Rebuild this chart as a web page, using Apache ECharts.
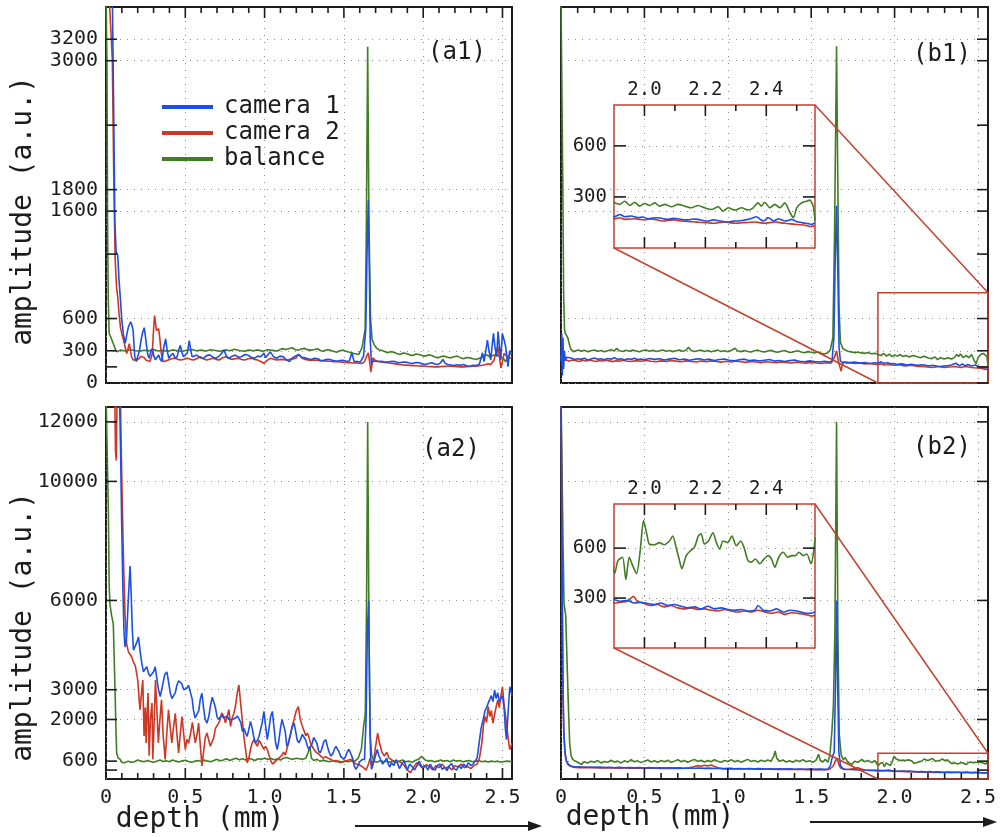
<!DOCTYPE html>
<html>
<head>
<meta charset="utf-8">
<script src="https://cdn.jsdelivr.net/npm/echarts@6/dist/echarts.min.js"></script>
<style>
  html, body { margin: 0; padding: 0; background: #ffffff; }
  #chart { width: 1000px; height: 837px; }
</style>
</head>
<body>
<div id="chart"></div>
<script>
// ---------- axis ticks and labels ----------
const DEPTH_MAX = 2.56;
const DEPTH_LABELS = [0, 0.5, 1.0, 1.5, 2.0, 2.5];
const DEPTH_MINOR = [0.1, 0.2, 0.3, 0.4, 0.6, 0.7, 0.8, 0.9, 1.1, 1.2, 1.3, 1.4, 1.6, 1.7, 1.8, 1.9, 2.1, 2.2, 2.3, 2.4];
const TOP_Y_TICKS = [0, 300, 600, 1600, 1800, 3000, 3200];
const TOP_Y_EXTRA = [150, 1200, 2400];
const TOP_Y_MAX = 3500;
const BOTTOM_Y_TICKS = [600, 2000, 3000, 6000, 10000, 12000];
const BOTTOM_Y_EXTRA = [300];
const BOTTOM_Y_MAX = 12500;
const ZOOM_DEPTH = [1.9, 2.56];
const ZOOM_X_MAJOR = [2.0, 2.2, 2.4];
const ZOOM_X_MINOR = [2.1, 2.3, 2.5];
const ZOOM_Y_TICKS = [300, 600];
const ZOOM_Y_MAX_TOP = 840;
const ZOOM_Y_MAX_BOTTOM = 865;
const SERIES_NAMES = ['camera 1', 'camera 2', 'balance'];

// ---------- (a1) amplitude vs depth ----------
const a1Camera1 = [[0,3600],[0.02,3600],[0.04,3600],[0.048,2600],[0.056,1500],[0.064,1220],[0.074,1190],[0.082,960],[0.092,760],[0.1,580],[0.11,450],[0.121,370],[0.131,450],[0.141,520],[0.155,570],[0.163,540],[0.171,490],[0.181,250],[0.191,200],[0.201,210],[0.211,300],[0.221,400],[0.231,470],[0.241,515],[0.249,430],[0.256,340],[0.264,260],[0.272,230],[0.282,290],[0.292,320],[0.302,250],[0.312,215],[0.322,240],[0.332,260],[0.342,220],[0.352,200],[0.364,330],[0.376,410],[0.386,300],[0.396,230],[0.41,260],[0.423,275],[0.436,230],[0.449,245],[0.459,310],[0.469,350],[0.479,280],[0.489,245],[0.501,260],[0.513,280],[0.525,395],[0.535,300],[0.543,245],[0.558,250],[0.573,260],[0.594,235],[0.614,230],[0.634,255],[0.654,262],[0.674,240],[0.694,230],[0.72,260],[0.744,305],[0.76,250],[0.775,230],[0.795,250],[0.815,260],[0.835,240],[0.855,245],[0.875,265],[0.895,260],[0.915,240],[0.936,230],[0.956,250],[0.976,245],[0.996,280],[1.006,235],[1.036,290],[1.056,245],[1.076,230],[1.097,250],[1.117,245],[1.137,215],[1.157,200],[1.177,235],[1.214,266],[1.234,240],[1.254,234],[1.274,225],[1.294,219],[1.314,230],[1.334,225],[1.354,210],[1.374,212],[1.394,220],[1.414,219],[1.434,208],[1.454,203],[1.474,210],[1.494,212],[1.514,205],[1.534,203],[1.55,281],[1.564,203],[1.584,200],[1.604,194],[1.624,250],[1.638,500],[1.646,1200],[1.654,1700],[1.66,1100],[1.666,406],[1.674,172],[1.684,205],[1.694,212],[1.714,200],[1.734,203],[1.754,198],[1.774,194],[1.794,200],[1.814,203],[1.834,192],[1.854,188],[1.874,196],[1.894,194],[1.914,186],[1.934,181],[1.954,190],[1.974,188],[1.994,178],[2.014,172],[2.034,182],[2.054,188],[2.074,176],[2.094,172],[2.11,190],[2.124,219],[2.138,185],[2.154,172],[2.174,168],[2.194,162],[2.214,170],[2.234,165],[2.254,172],[2.274,160],[2.294,156],[2.314,165],[2.334,162],[2.354,175],[2.374,281],[2.384,200],[2.394,188],[2.405,400],[2.415,300],[2.426,214],[2.435,350],[2.443,462],[2.453,330],[2.464,245],[2.472,478],[2.48,350],[2.489,214],[2.499,462],[2.51,400],[2.52,338],[2.535,152],[2.545,300],[2.56,276]];
const a1Camera2 = [[0,3600],[0.02,3600],[0.04,3000],[0.05,1800],[0.058,1150],[0.066,900],[0.074,800],[0.082,650],[0.091,520],[0.101,450],[0.111,400],[0.121,330],[0.131,275],[0.139,320],[0.147,367],[0.155,300],[0.161,245],[0.171,215],[0.181,199],[0.196,215],[0.211,230],[0.221,250],[0.231,260],[0.241,235],[0.252,214],[0.264,205],[0.276,199],[0.286,240],[0.292,275],[0.3,500],[0.306,627],[0.312,560],[0.318,490],[0.325,480],[0.332,505],[0.339,420],[0.346,306],[0.354,230],[0.362,199],[0.377,205],[0.392,214],[0.413,225],[0.433,230],[0.453,220],[0.473,214],[0.493,222],[0.513,230],[0.533,220],[0.553,214],[0.574,228],[0.594,245],[0.614,225],[0.634,214],[0.654,222],[0.674,230],[0.694,220],[0.714,214],[0.735,235],[0.755,245],[0.775,228],[0.795,220],[0.815,225],[0.835,230],[0.855,218],[0.875,214],[0.895,225],[0.916,230],[0.936,220],[0.956,214],[0.976,200],[0.996,184],[1.016,210],[1.036,230],[1.056,222],[1.076,214],[1.106,220],[1.137,214],[1.167,222],[1.197,230],[1.214,266],[1.234,235],[1.254,219],[1.274,215],[1.294,210],[1.314,214],[1.334,212],[1.354,205],[1.374,208],[1.394,204],[1.414,203],[1.434,198],[1.454,200],[1.474,196],[1.494,194],[1.514,192],[1.534,190],[1.554,186],[1.574,188],[1.594,184],[1.614,181],[1.63,200],[1.644,250],[1.654,280],[1.662,200],[1.67,100],[1.678,180],[1.684,234],[1.694,215],[1.714,203],[1.734,195],[1.754,192],[1.774,188],[1.794,184],[1.814,180],[1.834,176],[1.854,172],[1.874,168],[1.894,166],[1.914,164],[1.934,162],[1.954,160],[1.974,158],[1.994,157],[2.014,156],[2.034,153],[2.054,152],[2.074,150],[2.094,150],[2.114,153],[2.134,155],[2.154,156],[2.174,156],[2.194,153],[2.214,151],[2.234,150],[2.254,150],[2.274,152],[2.294,154],[2.314,156],[2.334,156],[2.354,160],[2.374,165],[2.394,172],[2.41,180],[2.425,170],[2.447,214],[2.458,280],[2.47,338],[2.48,250],[2.49,140],[2.5,200],[2.51,276],[2.52,260],[2.53,245],[2.545,230],[2.56,240]];
const a1Balance = [[0,3600],[0.006,3000],[0.01,1500],[0.014,800],[0.02,460],[0.03,428],[0.04,390],[0.05,352],[0.06,310],[0.07,290],[0.08,300],[0.09,306],[0.12,298],[0.15,310],[0.18,302],[0.21,296],[0.24,305],[0.27,300],[0.3,312],[0.33,298],[0.36,304],[0.39,296],[0.42,308],[0.45,300],[0.48,295],[0.51,305],[0.54,312],[0.57,300],[0.6,306],[0.63,298],[0.66,310],[0.69,302],[0.72,296],[0.75,308],[0.78,300],[0.81,314],[0.84,302],[0.87,296],[0.9,306],[0.93,300],[0.96,308],[0.99,296],[1.02,310],[1.05,304],[1.08,298],[1.11,320],[1.134,312],[1.174,328],[1.194,310],[1.214,306],[1.234,318],[1.254,322],[1.274,308],[1.294,306],[1.314,312],[1.334,319],[1.354,300],[1.374,297],[1.394,310],[1.414,306],[1.434,295],[1.454,287],[1.474,300],[1.494,306],[1.514,295],[1.534,287],[1.564,275],[1.594,266],[1.614,328],[1.634,500],[1.642,1500],[1.65,3130],[1.658,1500],[1.668,600],[1.678,406],[1.69,360],[1.704,328],[1.72,310],[1.734,306],[1.754,295],[1.774,281],[1.794,292],[1.814,287],[1.834,275],[1.854,266],[1.874,280],[1.894,275],[1.914,262],[1.934,256],[1.954,270],[1.974,266],[1.994,255],[2.014,250],[2.034,262],[2.054,256],[2.074,242],[2.094,234],[2.114,246],[2.134,250],[2.154,240],[2.174,234],[2.194,245],[2.214,250],[2.234,236],[2.254,225],[2.274,238],[2.294,234],[2.314,226],[2.334,219],[2.35,228],[2.364,234],[2.38,250],[2.394,266],[2.405,260],[2.42,245],[2.44,255],[2.46,265],[2.48,250],[2.49,260],[2.505,230],[2.52,198],[2.535,240],[2.55,276],[2.56,270]];

// ---------- (a2) amplitude vs depth ----------
const a2Camera1 = [[0,13000],[0.06,13000],[0.085,13000],[0.092,11000],[0.099,8546],[0.106,6500],[0.113,5000],[0.12,4435],[0.13,4800],[0.142,6200],[0.152,7157],[0.16,6000],[0.166,5000],[0.173,4325],[0.185,4300],[0.195,4600],[0.205,4770],[0.215,4300],[0.226,3880],[0.236,3600],[0.247,3700],[0.257,3770],[0.268,3550],[0.278,3450],[0.289,3435],[0.3,3600],[0.31,3770],[0.32,3400],[0.331,3000],[0.342,2770],[0.355,3100],[0.37,3500],[0.384,3600],[0.395,3250],[0.405,2900],[0.416,2700],[0.426,2660],[0.437,2900],[0.447,3150],[0.458,3300],[0.468,3325],[0.478,3200],[0.49,3000],[0.5,2990],[0.51,3050],[0.52,3150],[0.53,3100],[0.543,2700],[0.552,2300],[0.562,2050],[0.574,2000],[0.585,2300],[0.595,2700],[0.605,2880],[0.615,2400],[0.625,2000],[0.637,1880],[0.648,2100],[0.66,2500],[0.67,2750],[0.68,2710],[0.69,2400],[0.7,2100],[0.71,2000],[0.72,2000],[0.73,2150],[0.742,2050],[0.753,2000],[0.764,2100],[0.775,2000],[0.785,1950],[0.796,2000],[0.806,2000],[0.817,2050],[0.828,2120],[0.838,2160],[0.85,1900],[0.86,1600],[0.87,1700],[0.88,1550],[0.89,1435],[0.9,1650],[0.911,1935],[0.922,1700],[0.932,1400],[0.943,1213],[0.955,1300],[0.965,1435],[0.975,1435],[0.985,1900],[0.996,2270],[1.006,1800],[1.017,1325],[1.028,1700],[1.038,2100],[1.049,2270],[1.06,1700],[1.07,1200],[1.08,990],[1.09,1300],[1.1,1700],[1.11,2000],[1.12,2050],[1.13,1600],[1.14,1100],[1.15,1200],[1.163,1500],[1.175,1750],[1.186,1880],[1.196,1600],[1.206,1300],[1.217,1213],[1.228,1350],[1.238,1500],[1.249,1545],[1.26,1300],[1.27,1100],[1.28,990],[1.29,990],[1.3,1200],[1.31,1400],[1.32,1435],[1.33,1200],[1.34,950],[1.35,880],[1.36,1000],[1.373,1250],[1.386,1325],[1.396,1100],[1.407,900],[1.418,770],[1.43,850],[1.44,1000],[1.45,1100],[1.46,1100],[1.47,900],[1.48,760],[1.49,700],[1.5,660],[1.51,750],[1.52,900],[1.532,1000],[1.544,990],[1.555,700],[1.565,450],[1.576,324],[1.59,450],[1.6,580],[1.615,650],[1.63,660],[1.64,2000],[1.648,5000],[1.656,6000],[1.662,3000],[1.668,800],[1.674,324],[1.685,500],[1.7,800],[1.71,990],[1.72,800],[1.735,600],[1.745,500],[1.755,550],[1.77,700],[1.78,500],[1.79,400],[1.8,550],[1.815,450],[1.83,650],[1.84,500],[1.85,350],[1.865,500],[1.88,600],[1.89,450],[1.9,300],[1.915,500],[1.93,420],[1.945,300],[1.96,450],[1.975,600],[1.99,400],[2.0,350],[2.015,450],[2.03,300],[2.045,500],[2.06,350],[2.075,300],[2.09,450],[2.105,500],[2.12,320],[2.135,400],[2.15,280],[2.165,450],[2.18,520],[2.195,350],[2.21,300],[2.225,450],[2.24,350],[2.255,500],[2.27,400],[2.285,550],[2.3,450],[2.315,500],[2.325,440],[2.34,700],[2.355,1300],[2.365,1700],[2.378,2000],[2.39,2300],[2.4,2400],[2.41,2550],[2.42,2500],[2.43,2800],[2.44,2600],[2.45,2990],[2.46,2700],[2.47,2900],[2.48,2600],[2.49,2660],[2.5,2800],[2.51,2400],[2.518,1700],[2.525,1325],[2.535,2200],[2.546,3100],[2.56,2800]];
const a2Camera2 = [[0,13000],[0.055,13000],[0.06,11000],[0.065,10700],[0.07,13000],[0.08,13000],[0.09,13000],[0.1,10000],[0.105,8657],[0.112,7000],[0.12,5500],[0.13,4550],[0.14,4300],[0.15,4200],[0.162,4100],[0.175,3900],[0.185,3800],[0.194,3770],[0.2,3330],[0.21,2600],[0.215,2325],[0.22,2666],[0.232,3325],[0.24,1445],[0.248,2400],[0.253,1213],[0.258,2000],[0.265,2890],[0.272,779],[0.28,2000],[0.29,2555],[0.295,660],[0.303,1800],[0.312,3325],[0.322,2200],[0.33,1213],[0.34,2000],[0.35,2660],[0.36,1500],[0.373,660],[0.383,1500],[0.394,2325],[0.404,1800],[0.415,1213],[0.425,1700],[0.437,2210],[0.447,1500],[0.458,880],[0.468,1500],[0.479,2100],[0.49,1500],[0.5,990],[0.51,1334],[0.52,1200],[0.53,1435],[0.545,1900],[0.555,1500],[0.563,1213],[0.574,1500],[0.584,1880],[0.595,1100],[0.605,440],[0.615,900],[0.626,1400],[0.637,1545],[0.648,1300],[0.658,1100],[0.669,1100],[0.68,1400],[0.69,1700],[0.7,1750],[0.71,1880],[0.72,2000],[0.73,2222],[0.743,2100],[0.753,1889],[0.764,2100],[0.775,2333],[0.785,1770],[0.796,2055],[0.806,2200],[0.816,2435],[0.828,2900],[0.838,3160],[0.848,2600],[0.859,2000],[0.87,1400],[0.88,1000],[0.89,550],[0.9,668],[0.911,1000],[0.921,1200],[0.932,1325],[0.943,1200],[0.955,1100],[0.965,1300],[0.975,1213],[0.985,1100],[0.996,1000],[1.006,1100],[1.017,990],[1.028,800],[1.04,600],[1.05,500],[1.06,440],[1.07,600],[1.08,550],[1.09,700],[1.1,660],[1.11,800],[1.12,900],[1.13,800],[1.14,990],[1.15,1200],[1.163,1500],[1.175,1800],[1.186,2000],[1.2,2300],[1.213,2435],[1.225,2000],[1.238,1770],[1.25,1600],[1.26,1450],[1.27,1545],[1.28,1400],[1.29,1200],[1.3,1100],[1.312,990],[1.325,900],[1.34,850],[1.354,770],[1.37,700],[1.385,750],[1.4,700],[1.418,660],[1.435,600],[1.45,620],[1.465,580],[1.48,550],[1.5,600],[1.52,620],[1.544,660],[1.56,560],[1.58,500],[1.6,470],[1.61,440],[1.625,380],[1.64,300],[1.655,500],[1.665,700],[1.675,450],[1.69,700],[1.7,1100],[1.713,1545],[1.725,1200],[1.74,900],[1.755,770],[1.77,900],[1.785,700],[1.8,650],[1.82,550],[1.84,600],[1.86,550],[1.88,450],[1.9,300],[1.92,213],[1.94,400],[1.96,550],[1.98,450],[2.0,350],[2.02,480],[2.04,420],[2.06,300],[2.08,450],[2.1,380],[2.12,500],[2.14,350],[2.16,420],[2.18,300],[2.2,450],[2.22,400],[2.24,500],[2.26,380],[2.28,420],[2.3,350],[2.32,450],[2.34,500],[2.355,700],[2.37,1213],[2.38,1800],[2.39,2100],[2.4,1900],[2.41,2435],[2.42,2100],[2.43,2300],[2.44,1880],[2.455,2300],[2.47,2660],[2.48,2400],[2.49,2800],[2.5,3100],[2.51,2500],[2.525,1880],[2.535,1400],[2.546,990],[2.56,1200]];
const a2Balance = [[0,13000],[0.008,13000],[0.015,9000],[0.02,6500],[0.025,5880],[0.035,5500],[0.046,5215],[0.052,4000],[0.057,2990],[0.062,1800],[0.067,880],[0.075,720],[0.089,660],[0.1,560],[0.11,520],[0.12,550],[0.14,600],[0.16,560],[0.18,580],[0.2,640],[0.22,600],[0.24,580],[0.26,620],[0.28,590],[0.3,560],[0.32,600],[0.34,640],[0.36,590],[0.38,610],[0.4,580],[0.42,640],[0.44,600],[0.46,570],[0.48,610],[0.5,630],[0.52,590],[0.54,560],[0.56,600],[0.58,620],[0.6,590],[0.62,640],[0.64,600],[0.66,580],[0.68,620],[0.7,660],[0.72,610],[0.74,640],[0.76,680],[0.78,620],[0.8,660],[0.82,700],[0.84,650],[0.86,680],[0.88,640],[0.9,700],[0.92,660],[0.94,620],[0.96,680],[0.98,660],[1.0,700],[1.02,660],[1.04,690],[1.06,650],[1.08,680],[1.1,640],[1.12,700],[1.14,720],[1.16,680],[1.18,660],[1.2,700],[1.22,680],[1.24,660],[1.26,700],[1.275,900],[1.285,1100],[1.295,700],[1.31,620],[1.33,660],[1.35,600],[1.37,640],[1.39,600],[1.41,580],[1.43,620],[1.45,580],[1.47,600],[1.49,560],[1.51,600],[1.53,580],[1.55,620],[1.57,600],[1.59,700],[1.61,1000],[1.625,1800],[1.635,2200],[1.643,6000],[1.65,12000],[1.657,6000],[1.665,1500],[1.675,800],[1.69,600],[1.71,560],[1.73,620],[1.75,580],[1.77,600],[1.79,560],[1.81,620],[1.83,580],[1.85,600],[1.87,640],[1.89,580],[1.91,600],[1.93,560],[1.95,620],[1.97,660],[1.99,760],[2.0,800],[2.01,650],[2.03,600],[2.05,620],[2.07,580],[2.09,600],[2.11,640],[2.13,600],[2.15,620],[2.17,580],[2.19,640],[2.21,600],[2.23,620],[2.25,580],[2.27,600],[2.29,620],[2.31,580],[2.33,600],[2.35,620],[2.37,580],[2.39,600],[2.41,570],[2.43,600],[2.45,580],[2.47,600],[2.49,560],[2.51,590],[2.53,600],[2.56,580]];

// ---------- (b1) amplitude vs depth ----------
const b1Camera1 = [[0,200],[0.004,460],[0.008,70],[0.012,420],[0.016,130],[0.02,300],[0.026,210],[0.034,240],[0.045,225],[0.06,232],[0.08,218],[0.1,226],[0.12,220],[0.14,230],[0.16,215],[0.18,224],[0.2,232],[0.22,220],[0.24,226],[0.26,216],[0.28,228],[0.3,222],[0.32,235],[0.34,220],[0.36,225],[0.38,214],[0.4,226],[0.42,220],[0.44,230],[0.46,218],[0.48,224],[0.5,216],[0.53,228],[0.56,220],[0.59,226],[0.62,214],[0.65,222],[0.68,230],[0.71,216],[0.74,224],[0.77,212],[0.8,220],[0.83,226],[0.86,214],[0.89,222],[0.92,210],[0.95,218],[0.98,224],[1.01,212],[1.04,206],[1.07,216],[1.1,222],[1.13,208],[1.16,214],[1.19,205],[1.22,212],[1.25,218],[1.28,204],[1.31,210],[1.34,200],[1.37,208],[1.4,214],[1.43,202],[1.46,198],[1.49,206],[1.52,200],[1.55,195],[1.58,202],[1.61,196],[1.625,205],[1.636,420],[1.644,1150],[1.652,1650],[1.66,1000],[1.667,330],[1.675,205],[1.69,190],[1.71,196],[1.73,188],[1.76,194],[1.79,185],[1.82,190],[1.85,182],[1.88,188],[1.902,184],[1.919,197],[1.935,184],[1.957,188],[1.979,178],[1.995,182],[2.012,172],[2.028,176],[2.045,178],[2.062,172],[2.078,168],[2.094,174],[2.11,172],[2.127,166],[2.143,165],[2.16,170],[2.176,168],[2.192,162],[2.209,159],[2.226,165],[2.242,161],[2.258,156],[2.275,153],[2.292,158],[2.308,159],[2.325,163],[2.341,168],[2.355,176],[2.368,184],[2.379,170],[2.39,159],[2.398,166],[2.406,178],[2.415,170],[2.423,159],[2.431,164],[2.439,172],[2.45,166],[2.461,159],[2.472,162],[2.483,168],[2.494,160],[2.505,153],[2.516,150],[2.527,145],[2.538,143],[2.549,139],[2.56,149]];
const b1Camera2 = [[0,230],[0.006,260],[0.012,200],[0.018,240],[0.025,215],[0.035,222],[0.05,205],[0.07,214],[0.09,208],[0.11,200],[0.13,212],[0.15,205],[0.17,215],[0.19,207],[0.21,200],[0.23,210],[0.25,204],[0.27,212],[0.29,206],[0.31,199],[0.33,208],[0.35,202],[0.37,212],[0.39,205],[0.42,200],[0.45,208],[0.48,202],[0.51,210],[0.54,203],[0.57,198],[0.6,206],[0.63,200],[0.66,210],[0.69,204],[0.72,198],[0.75,206],[0.78,200],[0.81,195],[0.84,204],[0.87,198],[0.9,206],[0.93,200],[0.96,194],[0.99,202],[1.02,196],[1.05,204],[1.08,198],[1.11,192],[1.14,200],[1.17,195],[1.2,190],[1.23,198],[1.26,193],[1.29,188],[1.32,196],[1.35,191],[1.38,186],[1.41,194],[1.44,189],[1.47,185],[1.5,192],[1.53,186],[1.56,182],[1.59,188],[1.62,184],[1.64,240],[1.652,300],[1.662,210],[1.672,150],[1.68,110],[1.686,170],[1.695,195],[1.71,185],[1.73,190],[1.76,182],[1.79,186],[1.82,178],[1.85,182],[1.88,175],[1.902,172],[1.919,178],[1.935,168],[1.952,170],[1.968,172],[1.984,168],[2.001,165],[2.017,170],[2.034,168],[2.05,162],[2.067,159],[2.083,164],[2.1,165],[2.116,160],[2.132,157],[2.148,155],[2.165,153],[2.181,151],[2.198,149],[2.214,147],[2.23,145],[2.247,150],[2.263,153],[2.28,149],[2.296,145],[2.313,147],[2.329,149],[2.346,151],[2.362,153],[2.378,149],[2.395,145],[2.411,149],[2.428,153],[2.444,149],[2.461,145],[2.477,142],[2.494,139],[2.51,137],[2.527,134],[2.543,126],[2.56,130]];
const b1Balance = [[0,3600],[0.006,3600],[0.011,1800],[0.016,800],[0.021,500],[0.026,462],[0.034,440],[0.042,416],[0.05,360],[0.058,318],[0.074,292],[0.09,300],[0.104,307],[0.12,296],[0.14,304],[0.16,292],[0.18,300],[0.2,308],[0.22,296],[0.24,302],[0.26,290],[0.28,300],[0.3,310],[0.32,298],[0.334,323],[0.35,300],[0.37,294],[0.39,304],[0.41,296],[0.43,306],[0.45,298],[0.47,290],[0.49,302],[0.51,308],[0.53,296],[0.55,304],[0.57,294],[0.59,300],[0.61,308],[0.63,296],[0.65,302],[0.67,292],[0.69,300],[0.71,306],[0.73,296],[0.75,304],[0.764,332],[0.78,302],[0.8,294],[0.82,300],[0.84,306],[0.86,294],[0.88,302],[0.9,290],[0.92,298],[0.94,306],[0.96,294],[0.98,300],[1.0,290],[1.02,302],[1.044,323],[1.06,298],[1.08,292],[1.1,302],[1.12,294],[1.14,288],[1.16,300],[1.18,306],[1.2,294],[1.22,288],[1.24,298],[1.26,304],[1.28,292],[1.3,286],[1.32,296],[1.34,302],[1.36,290],[1.38,284],[1.4,294],[1.42,300],[1.44,288],[1.46,282],[1.48,292],[1.5,286],[1.52,280],[1.54,288],[1.56,276],[1.58,270],[1.6,282],[1.614,307],[1.63,420],[1.64,1400],[1.652,3135],[1.66,1800],[1.667,700],[1.675,380],[1.69,320],[1.704,307],[1.72,296],[1.74,290],[1.764,282],[1.78,288],[1.8,280],[1.824,276],[1.84,284],[1.86,272],[1.884,276],[1.902,265],[1.919,256],[1.935,275],[1.952,250],[1.968,269],[1.984,246],[2.001,261],[2.017,250],[2.034,265],[2.05,246],[2.067,256],[2.089,242],[2.11,256],[2.132,246],[2.154,236],[2.176,250],[2.198,236],[2.22,226],[2.242,242],[2.258,217],[2.275,236],[2.297,223],[2.319,236],[2.341,223],[2.357,236],[2.373,265],[2.384,246],[2.395,269],[2.412,236],[2.428,256],[2.445,236],[2.461,265],[2.478,207],[2.489,178],[2.5,236],[2.516,265],[2.532,275],[2.543,281],[2.554,246],[2.56,160]];

// ---------- (b2) amplitude vs depth ----------
const b2Camera1 = [[0,13000],[0.004,13000],[0.008,6000],[0.012,3000],[0.017,1600],[0.024,900],[0.032,620],[0.044,490],[0.06,440],[0.084,400],[0.11,410],[0.14,395],[0.17,405],[0.2,390],[0.23,400],[0.26,385],[0.29,395],[0.32,380],[0.35,392],[0.38,378],[0.41,388],[0.44,375],[0.47,385],[0.5,372],[0.53,382],[0.56,370],[0.59,380],[0.62,368],[0.65,376],[0.68,365],[0.71,374],[0.74,362],[0.77,370],[0.8,360],[0.83,368],[0.86,356],[0.89,364],[0.92,352],[0.95,360],[0.98,350],[1.01,358],[1.04,346],[1.07,354],[1.1,344],[1.13,352],[1.16,340],[1.19,348],[1.22,338],[1.25,346],[1.28,336],[1.31,344],[1.34,332],[1.37,340],[1.4,330],[1.43,338],[1.46,328],[1.49,335],[1.52,325],[1.55,332],[1.58,322],[1.6,330],[1.615,450],[1.628,770],[1.638,900],[1.645,3000],[1.652,6000],[1.659,3000],[1.666,900],[1.675,450],[1.69,350],[1.704,330],[1.73,320],[1.76,312],[1.79,305],[1.82,300],[1.85,296],[1.88,292],[1.902,290],[1.922,280],[1.944,286],[1.966,270],[1.988,275],[2.01,267],[2.032,261],[2.054,270],[2.076,255],[2.098,261],[2.12,251],[2.142,241],[2.164,247],[2.186,235],[2.208,251],[2.23,235],[2.252,241],[2.274,231],[2.296,227],[2.318,231],[2.34,222],[2.362,227],[2.373,255],[2.39,227],[2.412,222],[2.434,235],[2.456,216],[2.478,227],[2.5,222],[2.522,212],[2.544,208],[2.56,216]];
const b2Camera2 = [[0,13000],[0.004,13000],[0.008,5500],[0.012,2800],[0.017,1500],[0.024,850],[0.032,600],[0.044,470],[0.06,420],[0.084,390],[0.11,380],[0.14,392],[0.17,378],[0.2,386],[0.23,372],[0.26,382],[0.29,370],[0.32,378],[0.35,366],[0.38,376],[0.41,364],[0.44,372],[0.47,360],[0.5,370],[0.53,360],[0.56,368],[0.59,356],[0.62,366],[0.65,356],[0.68,364],[0.71,354],[0.74,362],[0.77,380],[0.8,420],[0.82,450],[0.84,430],[0.86,460],[0.88,440],[0.9,470],[0.92,420],[0.94,380],[0.96,350],[0.99,340],[1.02,348],[1.05,338],[1.08,346],[1.11,334],[1.14,342],[1.17,330],[1.2,338],[1.23,328],[1.26,334],[1.29,324],[1.32,332],[1.35,322],[1.38,330],[1.41,320],[1.44,326],[1.47,316],[1.5,324],[1.53,314],[1.56,320],[1.59,310],[1.61,330],[1.63,420],[1.645,600],[1.655,700],[1.665,500],[1.675,380],[1.69,330],[1.704,320],[1.73,330],[1.76,360],[1.78,380],[1.8,340],[1.82,300],[1.85,290],[1.88,282],[1.902,270],[1.922,275],[1.944,280],[1.964,310],[1.977,280],[1.999,267],[2.021,255],[2.043,261],[2.065,247],[2.087,255],[2.109,241],[2.131,235],[2.153,241],[2.175,231],[2.197,235],[2.219,227],[2.241,222],[2.263,231],[2.285,222],[2.307,216],[2.329,222],[2.351,216],[2.373,227],[2.395,216],[2.417,208],[2.439,216],[2.461,202],[2.483,212],[2.505,208],[2.527,202],[2.549,192],[2.56,196]];
const b2Balance = [[0,13000],[0.006,13000],[0.012,8000],[0.018,5900],[0.028,5500],[0.036,4000],[0.044,2500],[0.052,1200],[0.06,800],[0.07,660],[0.084,602],[0.1,560],[0.124,490],[0.14,580],[0.16,540],[0.18,600],[0.2,560],[0.22,620],[0.24,540],[0.26,590],[0.28,560],[0.3,630],[0.32,570],[0.34,600],[0.36,540],[0.38,610],[0.4,570],[0.42,650],[0.44,580],[0.46,610],[0.48,550],[0.5,600],[0.52,640],[0.54,570],[0.56,610],[0.58,560],[0.6,620],[0.62,580],[0.64,630],[0.66,560],[0.68,600],[0.7,650],[0.72,580],[0.74,620],[0.76,560],[0.78,610],[0.8,660],[0.82,590],[0.84,630],[0.86,570],[0.88,620],[0.9,580],[0.92,650],[0.94,600],[0.96,560],[0.98,620],[1.0,590],[1.02,650],[1.04,580],[1.06,620],[1.08,560],[1.1,610],[1.12,660],[1.14,590],[1.16,620],[1.18,570],[1.2,630],[1.22,590],[1.24,640],[1.26,600],[1.275,760],[1.284,940],[1.293,700],[1.31,600],[1.33,640],[1.35,570],[1.37,610],[1.39,560],[1.41,630],[1.43,590],[1.45,650],[1.47,580],[1.49,610],[1.51,560],[1.53,640],[1.544,830],[1.555,620],[1.57,570],[1.584,660],[1.6,560],[1.612,800],[1.624,1600],[1.633,2440],[1.642,5000],[1.652,12000],[1.66,5000],[1.668,1500],[1.68,800],[1.692,650],[1.704,718],[1.72,560],[1.744,490],[1.76,600],[1.78,560],[1.804,660],[1.82,580],[1.84,620],[1.864,550],[1.88,620],[1.902,447],[1.913,525],[1.928,545],[1.939,412],[1.95,545],[1.961,496],[1.974,447],[1.986,584],[1.997,765],[2.008,682],[2.016,624],[2.032,620],[2.049,633],[2.065,620],[2.082,643],[2.093,673],[2.104,604],[2.115,525],[2.123,476],[2.137,555],[2.151,584],[2.164,604],[2.177,673],[2.186,686],[2.197,624],[2.21,643],[2.225,692],[2.236,633],[2.247,594],[2.258,643],[2.274,633],[2.287,673],[2.302,614],[2.316,643],[2.327,604],[2.34,525],[2.351,516],[2.364,535],[2.379,506],[2.393,535],[2.406,555],[2.417,535],[2.428,486],[2.441,545],[2.456,575],[2.47,545],[2.483,555],[2.496,555],[2.507,575],[2.522,555],[2.533,565],[2.547,506],[2.556,584],[2.56,663]];

// ---------- styling ----------
const FONT = '"DejaVu Sans Mono", "Liberation Mono", monospace';
const INK = '#1c1c1c';
const LINE_COLORS = { 'camera 1': '#1d4fe6', 'camera 2': '#cd3723', 'balance': '#417d23' };
const ZOOM_RED = '#c4402f';
const DOTTED = { color: '#8e8e8e', width: 1, type: [1, 6] };

const PANELS = [
  { label: '(a1)', rect: { left: 106, top: 7, width: 406, height: 376 }, yMax: TOP_Y_MAX, yTicks: TOP_Y_TICKS, yExtra: TOP_Y_EXTRA, ySide: 'left', xSide: 'top', xLabels: false,
    lines: { 'camera 1': a1Camera1, 'camera 2': a1Camera2, 'balance': a1Balance } },
  { label: '(b1)', rect: { left: 561, top: 7, width: 427, height: 376 }, yMax: TOP_Y_MAX, yTicks: TOP_Y_TICKS, yExtra: TOP_Y_EXTRA, ySide: 'right', xSide: 'top', xLabels: false,
    lines: { 'camera 1': b1Camera1, 'camera 2': b1Camera2, 'balance': b1Balance },
    zoom: { rect: { left: 614, top: 105, width: 201, height: 143 }, yMax: ZOOM_Y_MAX_TOP } },
  { label: '(a2)', rect: { left: 106, top: 407, width: 406, height: 372 }, yMax: BOTTOM_Y_MAX, yTicks: BOTTOM_Y_TICKS, yExtra: BOTTOM_Y_EXTRA, ySide: 'left', xSide: 'bottom', xLabels: true,
    lines: { 'camera 1': a2Camera1, 'camera 2': a2Camera2, 'balance': a2Balance } },
  { label: '(b2)', rect: { left: 561, top: 407, width: 427, height: 372 }, yMax: BOTTOM_Y_MAX, yTicks: BOTTOM_Y_TICKS, yExtra: BOTTOM_Y_EXTRA, ySide: 'right', xSide: 'bottom', xLabels: true,
    lines: { 'camera 1': b2Camera1, 'camera 2': b2Camera2, 'balance': b2Balance },
    zoom: { rect: { left: 614, top: 504, width: 201, height: 144 }, yMax: ZOOM_Y_MAX_BOTTOM } }
];
const PANEL_LABEL_POS = [[457, 53], [942, 55], [451, 450], [942, 448]];

const grids = [], xAxes = [], yAxes = [], series = [];

// tick values steer the dotted grid lines; the tick marks themselves are drawn below
function gridTicks(values) {
  return { show: true, inside: true, length: 1, customValues: values, lineStyle: { color: 'rgba(0,0,0,0)' } };
}
function textStyle(size) {
  return { fontFamily: FONT, fontSize: size, color: INK };
}
function addGrid(rect, border, width) {
  grids.push(Object.assign({ show: true, borderColor: border, borderWidth: width, backgroundColor: 'transparent', containLabel: false, outerBoundsMode: 'none' }, rect));
  return grids.length - 1;
}
function addAxis(list, gridIndex, cfg) {
  list.push(Object.assign({
    gridIndex, type: 'value', axisLine: { show: false, onZero: false },
    axisTick: { show: false }, splitLine: { show: false }, axisLabel: { show: false }
  }, cfg));
  return list.length - 1;
}
const fmtDepth = v => (v === 0 ? '0' : v.toFixed(1));
const fmtPlain = v => String(Math.round(v));

// draw order: balance underneath, camera 1 on top
const DRAW_ORDER = ['balance', 'camera 2', 'camera 1'];
const zoomLinks = [];
const tickPlans = [];

PANELS.forEach(p => {
  const g = addGrid(p.rect, INK, 2);
  const xi = addAxis(xAxes, g, {
    min: 0, max: DEPTH_MAX, position: p.xSide,
    axisTick: gridTicks(DEPTH_LABELS),
    splitLine: { show: true, lineStyle: DOTTED },
    axisLabel: Object.assign({ show: p.xLabels, customValues: DEPTH_LABELS, formatter: fmtDepth, margin: 9 }, textStyle(20))
  });
  const yi = addAxis(yAxes, g, {
    min: 0, max: p.yMax, position: p.ySide,
    axisTick: gridTicks(p.yTicks),
    splitLine: { show: true, lineStyle: DOTTED },
    axisLabel: Object.assign({ show: p.ySide === 'left', customValues: p.yTicks, formatter: fmtPlain, margin: 8 }, textStyle(20))
  });

  let mainIdx = series.length;
  DRAW_ORDER.forEach(name => {
    const s = {
      type: 'line', name, xAxisIndex: xi, yAxisIndex: yi, data: p.lines[name],
      symbol: 'none', showSymbol: false, animation: false, clip: true,
      lineStyle: { width: 1.6, color: LINE_COLORS[name] }, itemStyle: { color: LINE_COLORS[name] }
    };
    if (p.zoom && name === 'balance') {
      s.markArea = {
        silent: true, label: { show: false },
        itemStyle: { color: 'rgba(0,0,0,0)', borderColor: ZOOM_RED, borderWidth: 1.5 },
        data: [[{ coord: [ZOOM_DEPTH[0], 0] }, { coord: [ZOOM_DEPTH[1], p.zoom.yMax] }]]
      };
    }
    series.push(s);
  });
  tickPlans.push({
    seriesIndex: mainIdx, rect: p.rect,
    x: [{ side: p.xSide, values: DEPTH_LABELS.slice(1), len: 11 }, { side: p.xSide, values: DEPTH_MINOR, len: 6 }],
    y: [{ side: p.ySide, values: p.yTicks.concat(p.yExtra), len: 11 }]
  });

  if (p.zoom) {
    const zg = addGrid(p.zoom.rect, ZOOM_RED, 1.5);
    const zxi = addAxis(xAxes, zg, {
      min: ZOOM_DEPTH[0], max: ZOOM_DEPTH[1], position: 'top',
      axisTick: gridTicks(ZOOM_X_MAJOR),
      splitLine: { show: true, lineStyle: DOTTED },
      axisLabel: Object.assign({ show: true, customValues: ZOOM_X_MAJOR, formatter: v => v.toFixed(1), margin: 5 }, textStyle(19))
    });
    const zyi = addAxis(yAxes, zg, {
      min: 0, max: p.zoom.yMax, position: 'left',
      axisTick: gridTicks(ZOOM_Y_TICKS),
      splitLine: { show: true, lineStyle: DOTTED },
      axisLabel: Object.assign({ show: true, customValues: ZOOM_Y_TICKS, formatter: fmtPlain, margin: 7 }, textStyle(19))
    });
    const zoomIdx = series.length;
    DRAW_ORDER.forEach(name => {
      series.push({
        type: 'line', name, xAxisIndex: zxi, yAxisIndex: zyi, data: p.lines[name],
        symbol: 'none', showSymbol: false, animation: false, clip: true, smooth: 0.25,
        lineStyle: { width: 1.6, color: LINE_COLORS[name] }, itemStyle: { color: LINE_COLORS[name] }
      });
    });
    zoomLinks.push({ mainIdx, zoomIdx, yMax: p.zoom.yMax });
    tickPlans.push({
      seriesIndex: zoomIdx, rect: p.zoom.rect,
      x: [
        { side: 'top', values: ZOOM_X_MAJOR, len: 11 }, { side: 'top', values: ZOOM_X_MINOR, len: 6 },
        { side: 'bottom', values: ZOOM_X_MAJOR, len: 11 }, { side: 'bottom', values: ZOOM_X_MINOR, len: 6 }
      ],
      y: [{ side: 'left', values: ZOOM_Y_TICKS, len: 12 }, { side: 'right', values: ZOOM_Y_TICKS, len: 12 }]
    });
  }
});

const chart = echarts.init(document.getElementById('chart'), null, { renderer: 'canvas' });
chart.setOption({
  animation: false,
  backgroundColor: '#ffffff',
  textStyle: { fontFamily: FONT },
  grid: grids,
  xAxis: xAxes,
  yAxis: yAxes,
  legend: {
    data: SERIES_NAMES.map(name => ({ name, icon: 'rect', itemStyle: { color: LINE_COLORS[name] } })),
    orient: 'vertical', left: 157, top: 90,
    itemWidth: 51, itemHeight: 4, itemGap: 2,
    textStyle: { fontFamily: FONT, fontSize: 24, color: INK, lineHeight: 24, padding: [0, 0, 0, 6] }
  },
  series
});

// ---------- annotations: ticks, titles, panel tags, arrows, zoom connectors ----------
const graphics = [];
function segment(x1, y1, x2, y2, color, width, z) {
  graphics.push({ type: 'line', silent: true, z: z || 60, shape: { x1, y1, x2, y2 }, style: { stroke: color, lineWidth: width } });
}
tickPlans.forEach(plan => {
  const r = plan.rect;
  const edgeTop = r.top, edgeBottom = r.top + r.height, edgeLeft = r.left, edgeRight = r.left + r.width;
  const px = v => chart.convertToPixel({ seriesIndex: plan.seriesIndex }, v);
  plan.x.forEach(set => set.values.forEach(v => {
    const x = px([v, 0])[0];
    if (set.side === 'top') segment(x, edgeTop, x, edgeTop + set.len, INK, 1.6);
    else segment(x, edgeBottom, x, edgeBottom - set.len, INK, 1.6);
  }));
  plan.y.forEach(set => set.values.forEach(v => {
    const y = px([0, v])[1];
    if (set.side === 'left') segment(edgeLeft, y, edgeLeft + set.len, y, INK, 1.6);
    else segment(edgeRight, y, edgeRight - set.len, y, INK, 1.6);
  }));
});

function text(str, x, y, size, opts) {
  graphics.push(Object.assign({
    type: 'text', x, y, z: 50,
    style: { text: str, fontFamily: FONT, fontSize: size, fill: INK, align: 'center', verticalAlign: 'middle' }
  }, opts || {}));
}
PANELS.forEach((p, i) => text(p.label, PANEL_LABEL_POS[i][0], PANEL_LABEL_POS[i][1], 24));
text('amplitude (a.u.)', 24, 211, 28, { rotation: Math.PI / 2 });
text('amplitude (a.u.)', 24, 627, 28, { rotation: Math.PI / 2 });
text('depth (mm)', 200, 820, 28);
text('depth (mm)', 650, 818, 28);

function arrow(x1, x2, y) {
  segment(x1, y, x2 - 10, y, INK, 2, 50);
  graphics.push({ type: 'polygon', z: 50, shape: { points: [[x2, y], [x2 - 14, y - 5], [x2 - 14, y + 5]] }, style: { fill: INK } });
}
arrow(355, 542, 826);
arrow(810, 997, 822);

zoomLinks.forEach(link => {
  const zTopRight = chart.convertToPixel({ seriesIndex: link.zoomIdx }, [ZOOM_DEPTH[1], link.yMax]);
  const zBottomLeft = chart.convertToPixel({ seriesIndex: link.zoomIdx }, [ZOOM_DEPTH[0], 0]);
  const mTopRight = chart.convertToPixel({ seriesIndex: link.mainIdx }, [ZOOM_DEPTH[1], link.yMax]);
  const mBottomLeft = chart.convertToPixel({ seriesIndex: link.mainIdx }, [ZOOM_DEPTH[0], 0]);
  segment(zTopRight[0], zTopRight[1], mTopRight[0], mTopRight[1], ZOOM_RED, 1.5, 40);
  segment(zBottomLeft[0], zBottomLeft[1], mBottomLeft[0], mBottomLeft[1], ZOOM_RED, 1.5, 40);
});

chart.setOption({ graphic: { elements: graphics } });
</script>
</body>
</html>
